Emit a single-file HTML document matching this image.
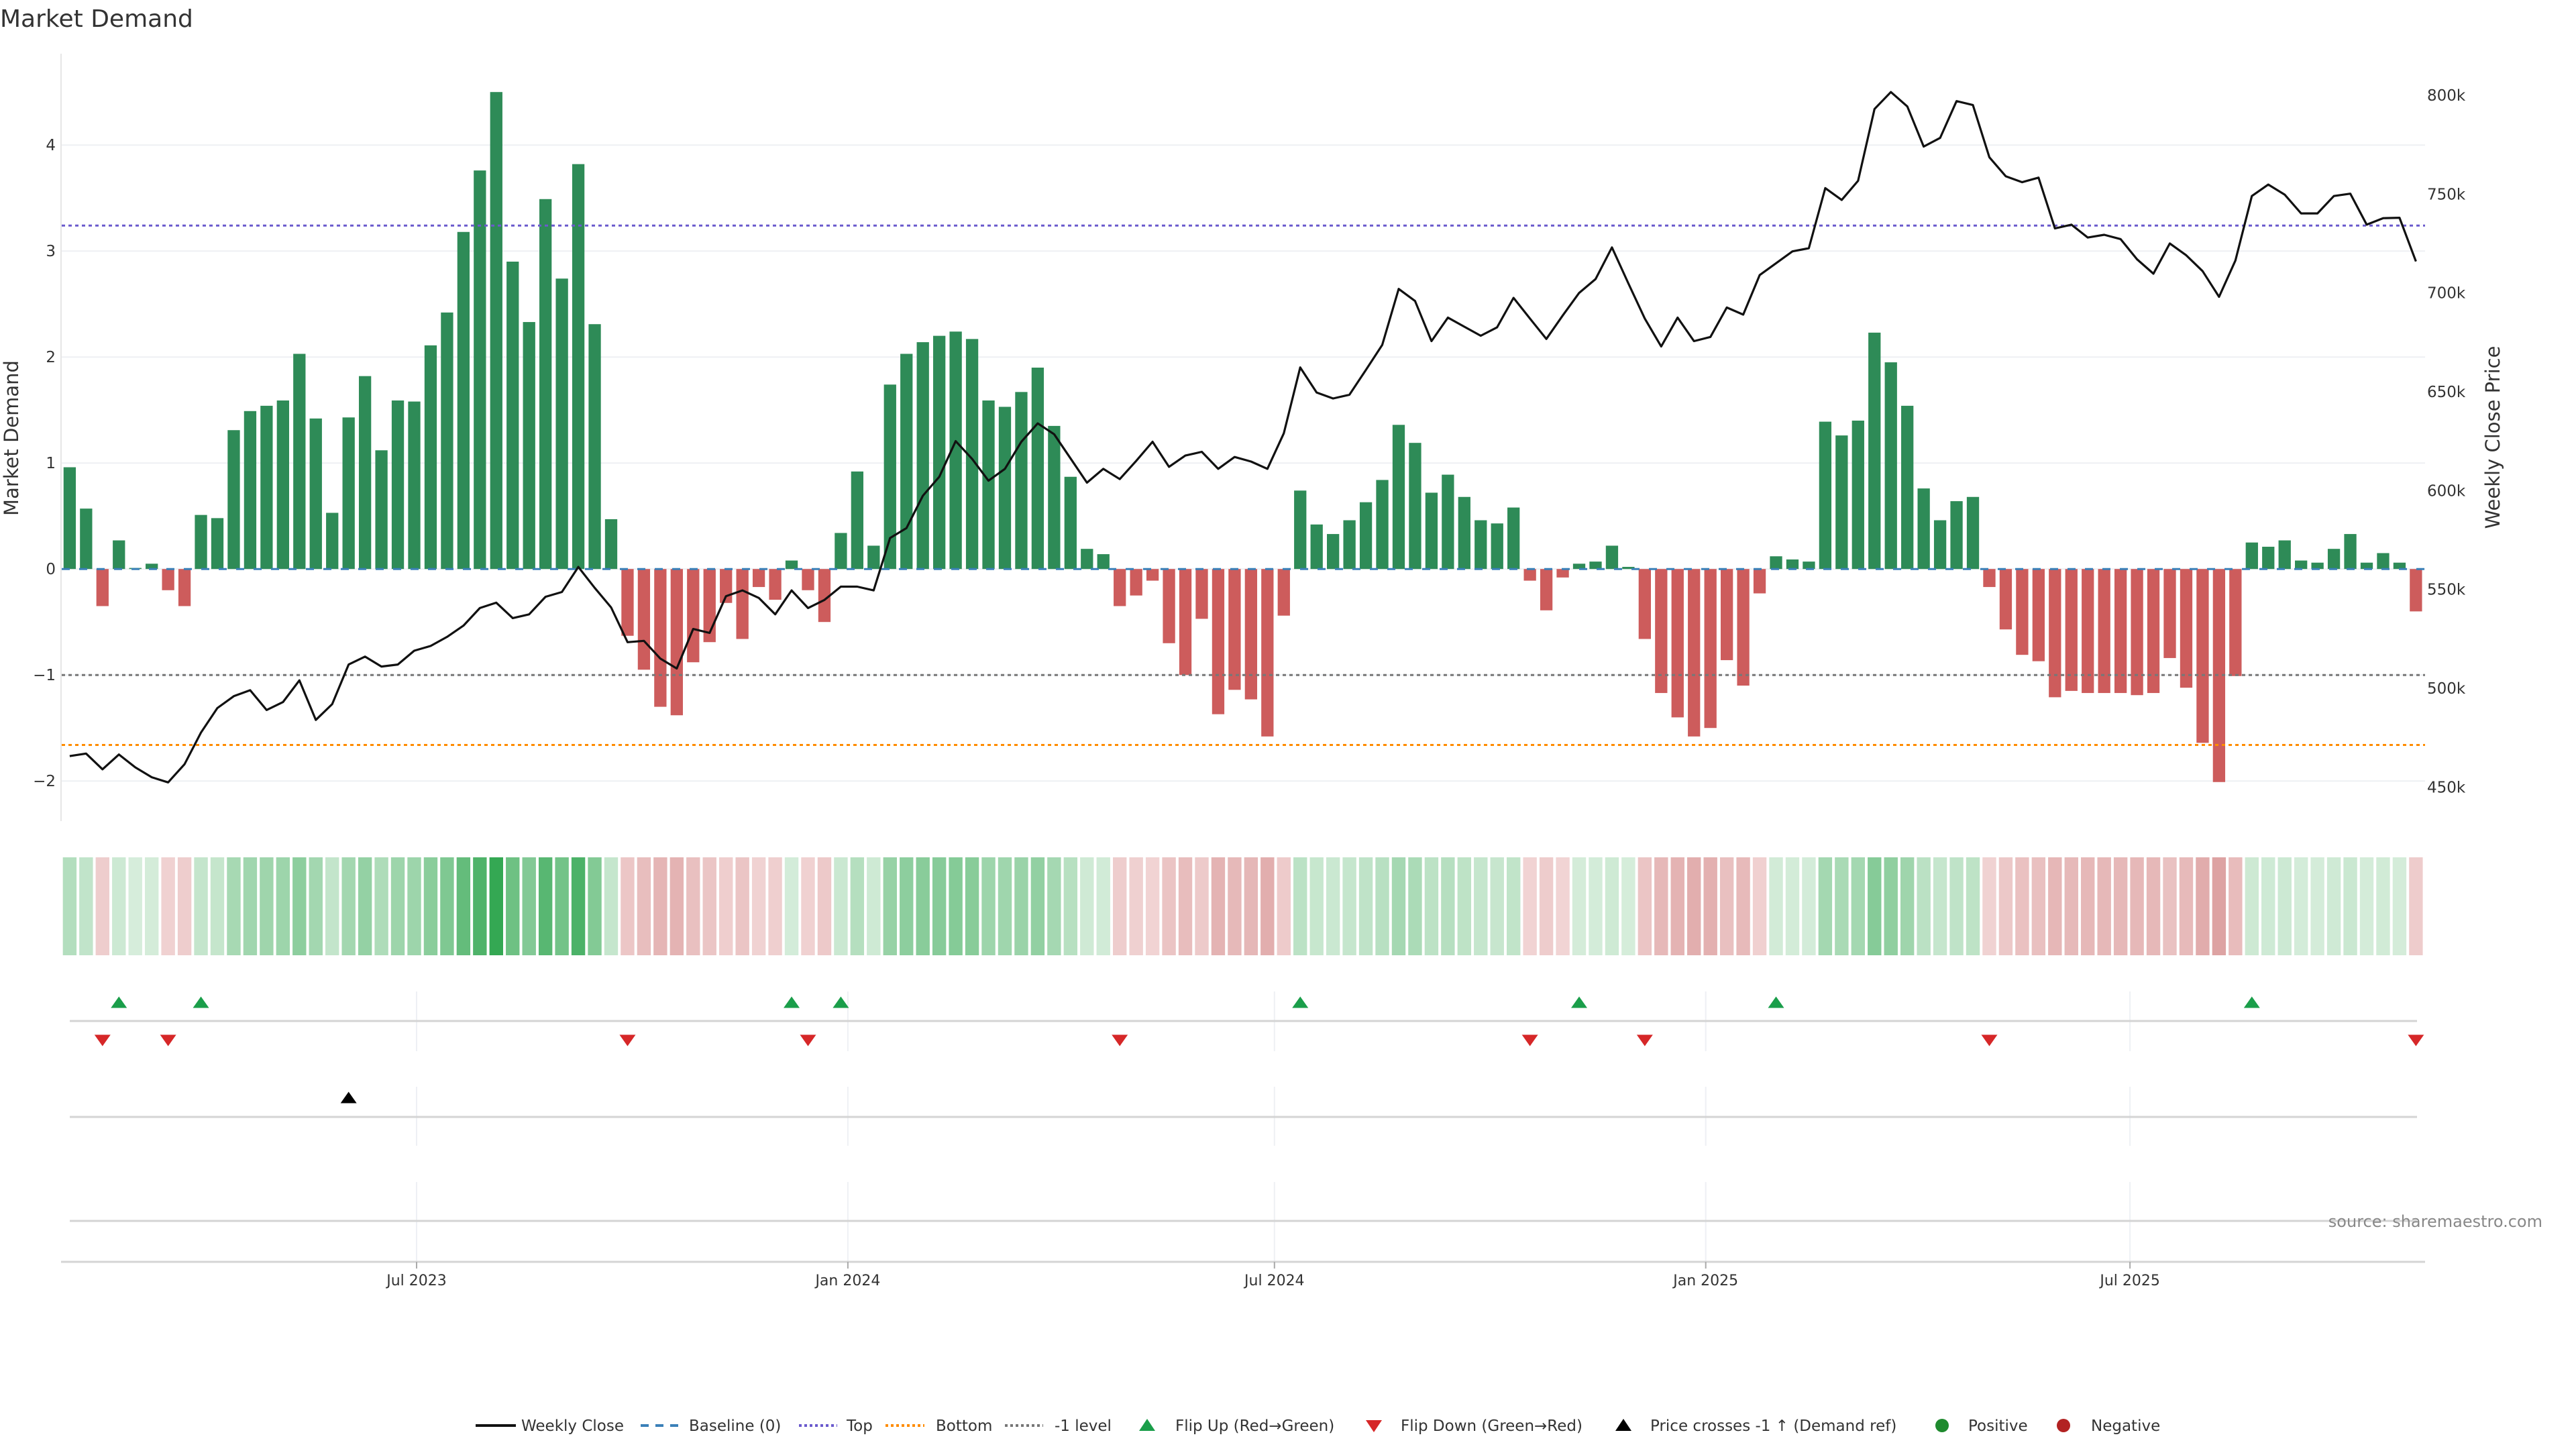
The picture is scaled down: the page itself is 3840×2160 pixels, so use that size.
<!DOCTYPE html>
<html><head><meta charset="utf-8"><title>Market Demand</title>
<style>
html,body{margin:0;padding:0;background:#fff;}
svg{display:block;font-family:"DejaVu Sans","Liberation Sans",sans-serif;}
</style></head>
<body>
<svg id="chart" width="3840" height="2160" viewBox="0 0 3840 2160" xmlns="http://www.w3.org/2000/svg">
<rect width="3840" height="2160" fill="#fff"/>
<text x="0" y="40" font-size="36" fill="#333">Market Demand</text>
<g id="g"></g>
</svg>
<script>
const demandValues = [0.96,0.57,-0.35,0.27,0.01,0.05,-0.2,-0.35,0.51,0.48,1.31,1.49,1.54,1.59,2.03,1.42,0.53,1.43,1.82,1.12,1.59,1.58,2.11,2.42,3.18,3.76,4.50,2.90,2.33,3.49,2.74,3.82,2.31,0.47,-0.63,-0.95,-1.30,-1.38,-0.88,-0.69,-0.32,-0.66,-0.17,-0.29,0.08,-0.2,-0.5,0.34,0.92,0.22,
1.74,2.03,2.14,2.20,2.24,2.17,1.59,1.53,1.67,1.90,1.35,0.87,0.19,0.14,-0.35,-0.25,-0.11,-0.70,-1.0,-0.47,-1.37,-1.14,-1.23,-1.58,-0.44,0.74,0.42,0.33,0.46,0.63,0.84,1.36,1.19,0.72,0.89,0.68,0.46,0.43,0.58,-0.11,-0.39,-0.08,0.05,0.07,0.22,0.02,-0.66,-1.17,-1.40,-1.58,
-1.5,-0.86,-1.10,-0.23,0.12,0.09,0.07,1.39,1.26,1.40,2.23,1.95,1.54,0.76,0.46,0.64,0.68,-0.17,-0.57,-0.81,-0.87,-1.21,-1.15,-1.17,-1.17,-1.17,-1.19,-1.17,-0.84,-1.12,-1.64,-2.01,-1.01,0.25,0.21,0.27,0.08,0.06,0.19,0.33,0.06,0.15,0.06,-0.40];
const closePrices = [465.7,467,459,466.5,460,455,452.4,461.6,477.6,490,496,499,489,493,504,484,492,512,516,511,512,519,521.4,526,531.7,540.6,543.3,535.5,537.4,546.3,548.7,561.4,550.8,540.9,523.3,524,515,510,530,528,546.6,549.5,545.7,537.4,549.5,540.6,544.7,551.4,551.4,549.5,
576,581,597.4,607,625,616,605,611,624.7,634,628.5,616.3,604,611,605.8,615,624.7,612,617.7,619.6,611,617,614.7,611,629,662.3,649.6,646.6,648.5,661,673.7,702,695.9,675.6,687.5,682.9,678.3,682.6,697.5,687,676.7,688.6,700,707,723,704.8,687,672.9,687.5,675.6,
677.7,692.6,689,709,715,721,722.6,753,747,756.7,793,801.6,794.3,774,778.4,797,795,768.6,759,756,758.3,732.6,734.5,728,729.4,727.2,717,709.7,725,719,711,698,716.4,749,754.8,749.7,740.2,740.2,749,750.2,734.5,737.8,738,715.9];
const demandTicks = [-2,-1,0,1,2,3,4];
const priceTicks = [450,500,550,600,650,700,750,800];
const xTickLabels = ["Jul 2023","Jan 2024","Jul 2024","Jan 2025","Jul 2025"];
const xTickDays = [0,184,366,550,731];
const refTop = 3.24, refBottom = -1.66, refMinus1 = -1.0;
const priceCrossRef = 507;
const firstBarDay = -148;

const NS="http://www.w3.org/2000/svg";
const g=document.getElementById('g');
function el(t,a,p){const e=document.createElementNS(NS,t);for(const k in a)e.setAttribute(k,a[k]);(p||g).appendChild(e);return e;}
const xDay=d=>621+d*3.494;
const xBar=i=>xDay(firstBarDay+7*i);
const yD=v=>848.2-v*158.0;
const yP=p=>141.9+(800-p)*2.947;
const L=91,R=3615;

demandTicks.forEach(t=>{
  const l=el('line',{x1:L,x2:R,y1:yD(t),y2:yD(t),stroke:'#eef0f4','stroke-width':2});
  
  
  const tx=el('text',{x:83,y:yD(t)+8,'text-anchor':'end','font-size':23,fill:'#333'});
  tx.textContent=(t<0?'\u2212':'')+Math.abs(t);
  
  
});
priceTicks.forEach(t=>{
  const tx=el('text',{x:3618,y:yP(t)+8,'font-size':23,fill:'#333'});
  tx.textContent=t+'k';
  
  
});
const ax=el('line',{x1:L,x2:L,y1:80,y2:1224,stroke:'#e6e6e6','stroke-width':2});


let t1=el('text',{transform:'translate(27,653) rotate(-90)','text-anchor':'middle','font-size':29,fill:'#333'});
t1.textContent='Market Demand';


let t2=el('text',{transform:'translate(3726,652) rotate(-90)','text-anchor':'middle','font-size':29,fill:'#333'});
t2.textContent='Weekly Close Price';



const bw=18.3;
demandValues.forEach((v,i)=>{
  const x=xBar(i);
  const y0=yD(0),y1=yD(v);
  const r=el('rect',{x:x-bw/2,y:Math.min(y0,y1),width:bw,height:Math.max(Math.abs(y1-y0),0.5),fill:v>=0?'#2e8b57':'#cd5c5c'});
  
  
});
function hline(v,color,dash,name,w){
  const l=el('line',{x1:92,x2:3615,y1:yD(v),y2:yD(v),stroke:color,'stroke-width':w||3,'stroke-dasharray':dash});
  
  
}
hline(0,'#3a80b8','12 14','baseline-line',3);
hline(refTop,'#6a5acd','5 5','top-line',3);
hline(refMinus1,'#777','5 5','minus1-level-line',3);
hline(refBottom,'#ff8c00','5 5','bottom-line',3);
const pts=closePrices.map((p,i)=>xBar(i).toFixed(1)+','+yP(p).toFixed(1)).join(' ');
const pl=el('polyline',{points:pts,fill:'none',stroke:'#111','stroke-width':3.2,'stroke-linejoin':'round'});



function mix(a,b,t){return 'rgb('+a.map((c,k)=>Math.round(c+(b[k]-c)*t)).join(',')+')';}
demandValues.forEach((v,i)=>{
  const t=Math.min(Math.abs(v)/4.5,1);
  const c=v>=0?mix([214,237,219],[52,168,83],t):mix([242,214,214],[196,100,100],t);
  const r=el('rect',{x:xBar(i)-10.2,y:1278,width:20.4,height:146,fill:c});
  
  
});

[[1478,1567],[1620,1708],[1762,1881]].forEach(([a,b])=>{
  xTickDays.forEach(d=>{
    const l=el('line',{x1:xDay(d),x2:xDay(d),y1:a,y2:b,stroke:'#eef0f4','stroke-width':2});
    
    
  });
});
[1522,1665,1820].forEach(y=>{
  const l=el('line',{x1:104,x2:3603,y1:y,y2:y,stroke:'#d4d4d4','stroke-width':3});
  
  
});
const xa=el('line',{x1:L,x2:R,y1:1881,y2:1881,stroke:'#d4d4d4','stroke-width':3});


xTickDays.forEach((d,k)=>{
  const tk=el('line',{x1:xDay(d),x2:xDay(d),y1:1881,y2:1891,stroke:'#aaa','stroke-width':2});
  
  
  const tx=el('text',{x:xDay(d),y:1916,'text-anchor':'middle','font-size':22,fill:'#333'});
  tx.textContent=xTickLabels[k];
  
  
});

function tri(x,y,up,color,name){
  const h=17,w=12;
  const d=up?`M${x-w},${y+h/2} L${x+w},${y+h/2} L${x},${y-h/2} Z`:`M${x-w},${y-h/2} L${x+w},${y-h/2} L${x},${y+h/2} Z`;
  const p=el('path',{d:d,fill:color});
  
  
}
for(let i=1;i<demandValues.length;i++){
  const a=demandValues[i-1]>=0,b=demandValues[i]>=0;
  if(!a&&b) tri(xBar(i),1494,true,'#1a9e4a','flip-up-marker');
  if(a&&!b) tri(xBar(i),1551,false,'#d62728','flip-down-marker');
  if(closePrices[i-1]<priceCrossRef&&closePrices[i]>=priceCrossRef) tri(xBar(i),1636,true,'#000','price-cross-marker');
}
const src=el('text',{x:3790,y:1829,'text-anchor':'end','font-size':24,fill:'#888'});
src.textContent='source: sharemaestro.com';



const lg=el('g',{});


const ly=2125;
function ltext(x,s){const t=el('text',{x:x,y:ly+8,'font-size':23,fill:'#333'},lg);t.textContent=s;}
let s;
s=el('line',{x1:709,x2:769,y1:ly,y2:ly,stroke:'#111','stroke-width':4},lg);ltext(777,'Weekly Close');
s=el('line',{x1:955,x2:1012,y1:ly,y2:ly,stroke:'#3a80b8','stroke-width':4,'stroke-dasharray':'12 10'},lg);ltext(1027,'Baseline (0)');
s=el('line',{x1:1191,x2:1248,y1:ly,y2:ly,stroke:'#6a5acd','stroke-width':4,'stroke-dasharray':'4 4'},lg);ltext(1262,'Top');
s=el('line',{x1:1320,x2:1378,y1:ly,y2:ly,stroke:'#ff8c00','stroke-width':4,'stroke-dasharray':'4 4'},lg);ltext(1395,'Bottom');
s=el('line',{x1:1498,x2:1555,y1:ly,y2:ly,stroke:'#777','stroke-width':4,'stroke-dasharray':'4 4'},lg);ltext(1572,'-1 level');
s=el('path',{d:`M1698,${ly+8} L1722,${ly+8} L1710,${ly-10} Z`,fill:'#1a9e4a'},lg);ltext(1752,'Flip Up (Red\u2192Green)');
s=el('path',{d:`M2036,${ly-8} L2060,${ly-8} L2048,${ly+10} Z`,fill:'#d62728'},lg);ltext(2088,'Flip Down (Green\u2192Red)');
s=el('path',{d:`M2408,${ly+8} L2432,${ly+8} L2420,${ly-10} Z`,fill:'#000'},lg);ltext(2460,'Price crosses -1 \u2191 (Demand ref)');
s=el('circle',{cx:2895,cy:ly,r:10,fill:'#1e8a2e'},lg);ltext(2934,'Positive');
s=el('circle',{cx:3076,cy:ly,r:10,fill:'#b22222'},lg);ltext(3117,'Negative');
</script>
</body></html>
